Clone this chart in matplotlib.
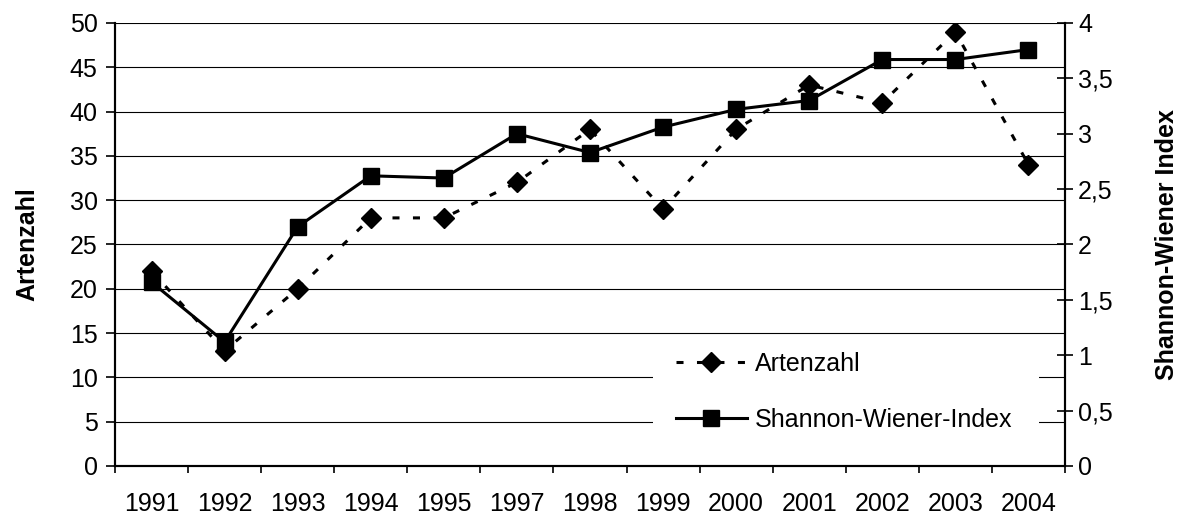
import numpy as np
import matplotlib
matplotlib.use("Agg")
import matplotlib.pyplot as plt
from matplotlib.patches import Rectangle
from matplotlib.ticker import FuncFormatter, MultipleLocator

plt.rcParams['font.family'] = ['Liberation Sans', 'DejaVu Sans']

# Daten
jahre = ["1991", "1992", "1993", "1994", "1995", "1997", "1998",
         "1999", "2000", "2001", "2002", "2003", "2004"]
artenzahl = [22, 13, 20, 28, 28, 32, 38, 29, 38, 43, 41, 49, 34]
shannon = [1.66, 1.12, 2.16, 2.62, 2.60, 3.00, 2.83, 3.06, 3.22, 3.30, 3.67, 3.67, 3.76]

x = np.arange(len(jahre))
fs = 18

fig = plt.figure(figsize=(11.84, 5.21), dpi=100)
ax1 = fig.add_axes([0.0971, 0.1056, 0.8024, 0.8503])
ax2 = ax1.twinx()

# Linien
l1, = ax1.plot(x, artenzahl, color="black", linewidth=2.2, dashes=(2.3, 4.4),
               marker="D", markersize=10, label="Artenzahl")
l2, = ax2.plot(x, shannon, color="black", linewidth=2.2, marker="s",
               markersize=11, label="Shannon-Wiener-Index", zorder=3)

# Achsen links
ax1.set_xlim(-0.5, len(jahre) - 0.5)
ax1.set_ylim(0, 50)
ax1.yaxis.set_major_locator(MultipleLocator(5))
ax1.grid(axis="y", color="black", linewidth=0.8)
ax1.set_axisbelow(True)
ax1.set_ylabel("Artenzahl", fontsize=fs, fontweight="bold", labelpad=22)

# x-Achse: Striche zwischen den Kategorien
ax1.set_xticks(x)
ax1.set_xticklabels(jahre)
ax1.set_xticks(np.arange(-0.5, len(jahre)), minor=True)
ax1.tick_params(axis="x", which="major", length=0, pad=19, labelsize=fs)
ax1.tick_params(axis="x", which="minor", length=5, width=1.2, direction="out")
ax1.tick_params(axis="y", length=6.5, width=1.2, direction="out", labelsize=fs, pad=6)

# Achse rechts
ax2.set_ylim(0, 4)
ax2.yaxis.set_major_locator(MultipleLocator(0.5))
ax2.yaxis.set_major_formatter(FuncFormatter(lambda v, p: ("%g" % v).replace(".", ",")))
ax2.tick_params(axis="y", length=11, width=1.2, direction="inout", labelsize=fs, pad=4)
ax2.set_ylabel("Shannon-Wiener Index", fontsize=fs, fontweight="bold", labelpad=30)

for ax in (ax1, ax2):
    ax.spines["top"].set_visible(False)
    for s in ("left", "right", "bottom"):
        ax.spines[s].set_linewidth(1.5)

# weisser Legendenhintergrund
ax2.add_patch(Rectangle((0.566, 0.036), 0.407, 0.245, transform=ax2.transAxes,
                        facecolor="white", edgecolor="none", zorder=2))

# Legende
leg = ax2.legend(handles=[l1, l2], loc="upper left", bbox_to_anchor=(0.5905, 0.257),
                 frameon=False, fontsize=fs, handlelength=2.84, handletextpad=0.3,
                 labelspacing=1.27, borderpad=0, borderaxespad=0)

fig.savefig("out.png", dpi=100)
